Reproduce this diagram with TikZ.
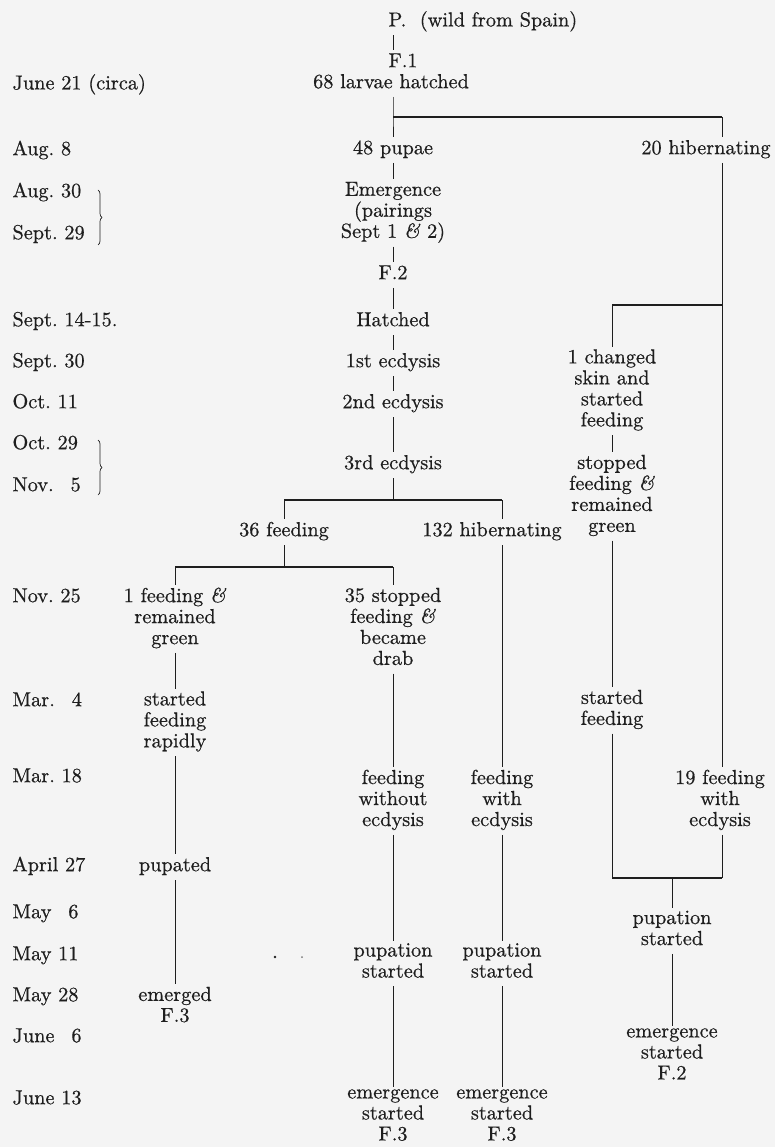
\documentclass[tikz,border=0pt]{standalone}
\usepackage{fontspec}
\setmainfont{lmroman10-regular.otf}[ItalicFont=lmroman10-italic.otf,BoldFont=lmroman10-bold.otf,FakeBold=0.6]
\usetikzlibrary{decorations.pathreplacing}
\definecolor{ink}{HTML}{1E1E1E}
\definecolor{paper}{HTML}{F4F4F4}
\frenchspacing
\begin{document}
\begin{tikzpicture}[x=1pt,y=-1pt,
  lbl/.style={inner sep=0pt, outer sep=2.5pt, align=center, font=\fontsize{20.3}{21}\selectfont, text=ink,
    execute at begin node=\strut, execute at end node=\strut},
  date/.style={lbl, anchor=west, align=left},
  link/.style={draw=ink, line width=0.85pt},
  bar/.style={draw=ink, line width=1.2pt},
  brc/.style={draw=ink, line width=0.7pt, decorate, decoration={brace, amplitude=4pt}}]
\useasboundingbox (0,0) rectangle (775,1147);
\fill[paper] (0,0) rectangle (775,1147);

% dates
\node[date] (d01) at (10,85) {June 21 (circa)};
\node[date] (d02) at (10,151) {Aug. 8};
\node[date] (d03) at (10,193) {Aug. 30};
\node[date] (d04) at (10,235) {Sept. 29};
\node[date] (d05) at (10,322) {Sept. 14-15.};
\node[date] (d06) at (10,363) {Sept. 30};
\node[date] (d07) at (10,404) {Oct. 11};
\node[date] (d08) at (10,445) {Oct. 29};
\node[date] (d09) at (10,487) {Nov.\ \hphantom{0}5};
\node[date] (d10) at (10,598) {Nov. 25};
\node[date] (d11) at (10,702) {Mar.\ \hphantom{0}4};
\node[date] (d12) at (10,778) {Mar. 18};
\node[date] (d13) at (10,867) {April 27};
\node[date] (d14) at (10,914) {May \hphantom{0}6};
\node[date] (d15) at (10,956) {May 11};
\node[date] (d16) at (10,997) {May 28};
\node[date] (d17) at (10,1038) {June \hphantom{0}6};
\node[date] (d18) at (10,1100) {June 13};

% braces
\coordinate (b1t) at (98,190); \coordinate (b1b) at (98,245);
\coordinate (b2t) at (98,440); \coordinate (b2b) at (98,495);
\draw[brc] (b1t) -- (b1b);
\draw[brc] (b2t) -- (b2b);

% column references
\coordinate (cB) at (393,0);
\coordinate (cC) at (502,0);
\coordinate (cE) at (722,0);

% main column
\node[lbl, anchor=west] (P) at (386,22) {P.\ \ (wild from Spain)};
\node[lbl, anchor=west] (F1) at (386,63) {F.1};
\node[lbl] (L68) at (391,84) {68 larvae hatched};
\node[lbl] (P48) at (393,150) {48 pupae};
\node[lbl] (H20) at (706,150) {20 hibernating};
\node[lbl] (Em) at (393,213) {Emergence\\(pairings\\Sept 1 \textit{\&} 2)};
\node[lbl] (F2) at (393,275) {F.2};
\node[lbl] (Hat) at (393,322) {Hatched};
\node[lbl] (E1) at (393,363) {1st ecdysis};
\node[lbl] (E2) at (393,404) {2nd ecdysis};
\node[lbl] (E3) at (393,465) {3rd ecdysis};
\node[lbl] (F36) at (284,532) {36 feeding};
\node[lbl] (H132) at (492,532) {132 hibernating};
\node[lbl] (G1) at (175,619) {1 feeding \textit{\&}\\remained\\green};
\node[lbl] (S35) at (393,629.5) {35 stopped\\feeding \textit{\&}\\became\\drab};
\node[lbl] (SFR) at (175,722.5) {started\\feeding\\rapidly};
\node[lbl] (Pup) at (175,867) {pupated};
\node[lbl] (Emd) at (175,1007.5) {emerged\\F.3};
\node[lbl] (FWO) at (393,801) {feeding\\without\\ecdysis};
\node[lbl] (PS1) at (393,963.5) {pupation\\started};
\node[lbl] (ES1) at (393,1118) {emergence\\started\\F.3};
\node[lbl] (FW) at (502,801) {feeding\\with\\ecdysis};
\node[lbl] (PS2) at (502,963.5) {pupation\\started};
\node[lbl] (ES2) at (502,1118) {emergence\\started\\F.3};
\node[lbl] (C1) at (612,391) {1 changed\\skin and\\started\\feeding};
\node[lbl] (SFG) at (612,496.5) {stopped\\feeding \textit{\&}\\remained\\green};
\node[lbl] (SF) at (612,710.5) {started\\feeding};
\node[lbl] (F19) at (720,801) {19 feeding\\with\\ecdysis};
\node[lbl] (PS3) at (672,931) {pupation\\started};
\node[lbl] (ES3) at (672,1057) {emergence\\started\\F.2};

% junctions
\coordinate (j1B) at (393,117); \coordinate (j1E) at (722,117);
\coordinate (j2A) at (284,500); \coordinate (j2B) at (393,500); \coordinate (j2C) at (502,500);
\coordinate (j3A) at (175,567); \coordinate (j3M) at (284,567); \coordinate (j3B) at (393,567);
\coordinate (j4D) at (612,305); \coordinate (j4E) at (722,305);
\coordinate (j5D) at (612,878); \coordinate (j5M) at (672,878); \coordinate (j5E) at (722,878);

% connectors
\draw[link] (P.south -| cB) -- (F1.north -| cB);
\draw[link] (L68.south -| cB) -- (j1B) -- (P48);
\draw[bar] (j1B) -- (j1E);
\draw[link] (j1E) -- (H20.north -| cE);
\foreach \a/\b in {P48/Em, Em/F2, F2/Hat, Hat/E1, E1/E2, E2/E3,
                   G1/SFR, SFR/Pup, Pup/Emd,
                   S35/FWO, FWO/PS1, PS1/ES1,
                   FW/PS2, PS2/ES2,
                   C1/SFG, SFG/SF, PS3/ES3}
  \draw[link] (\a) -- (\b);
\draw[link] (E3) -- (j2B);
\draw[bar] (j2A) -- (j2C);
\draw[link] (j2A) -- (F36);
\draw[link] (j2C) -- (H132.north -| cC);
\draw[link] (F36) -- (j3M);
\draw[bar] (j3A) -- (j3B);
\draw[link] (j3A) -- (G1);
\draw[link] (j3B) -- (S35);
\draw[link] (H132.south -| cC) -- (FW);
\draw[link] (H20.south -| cE) -- (j4E);
\draw[bar] (j4D) -- (j4E);
\draw[link] (j4D) -- (C1);
\draw[link] (SF) -- (j5D);
\draw[link] (j4E) -- (F19.north -| cE);
\draw[link] (F19.south -| cE) -- (j5E);
\draw[bar] (j5D) -- (j5E);
\draw[link] (j5M) -- (PS3);

% stray specks
\fill[ink] (275,957) circle (1.3);
\fill[ink!60] (302,957) circle (1);
\end{tikzpicture}
\end{document}
